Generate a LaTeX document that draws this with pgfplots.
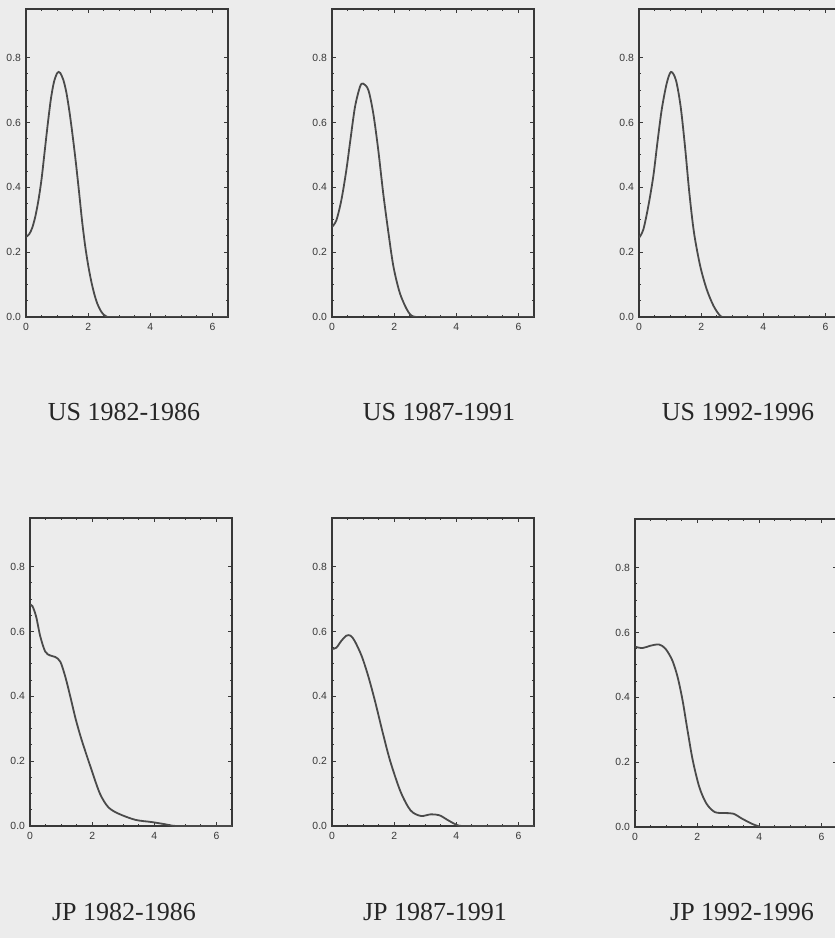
\documentclass[border=0pt]{standalone}
\usepackage{pgfplots}
\pgfplotsset{compat=1.18}
\usepackage{fontspec}
\setmainfont{Liberation Serif}
\newfontfamily\tickfont{Liberation Sans}
\definecolor{bg}{HTML}{ECECEC}
\definecolor{axc}{HTML}{383838}
\definecolor{crv}{HTML}{4A4A4A}
\pgfplotsset{
  panel/.style={
    scale only axis, width=101pt, height=154pt, anchor=south west,
    xmin=0, xmax=6.5, ymin=0, ymax=0.95,
    xtick={0,2,4,6}, ytick={0,0.2,0.4,0.6,0.8},
    minor x tick num=3, minor y tick num=3,
    tick pos=both, tick align=inside,
    major tick length=2.2pt, minor tick length=1.2pt,
    axis line style={axc, line width=0.75pt},
    every tick/.style={axc, line width=0.5pt},
    axis background/.style={fill=bg},
    yticklabel style={/pgf/number format/fixed, /pgf/number format/fixed zerofill, /pgf/number format/precision=1, xshift=1pt},
    /pgf/number format/assume math mode=true,
    tick label style={font=\tickfont\fontsize{5.2}{6}\selectfont, text=axc},
    xticklabel style={yshift=0.5pt},
    every axis plot post/.style={crv, line width=0.9pt, smooth, tension=0.5, mark=none},
  },
}
\begin{document}
\begin{tikzpicture}
\useasboundingbox (0,0) rectangle (417.5pt,469pt);
\fill[bg] (0,0) rectangle (417.5pt,469pt);

% US 1982-1986
\begin{axis}[panel, at={(13pt,310.5pt)}]
\addplot coordinates {(0,0.247) (0.1,0.255) (0.2,0.275) (0.3,0.31) (0.4,0.36) (0.5,0.425) (0.6,0.51) (0.7,0.595) (0.8,0.672) (0.9,0.725) (1.0,0.752) (1.05,0.756) (1.1,0.753) (1.2,0.732) (1.3,0.692) (1.4,0.632) (1.5,0.56) (1.6,0.48) (1.7,0.392) (1.8,0.30) (1.9,0.222) (2.0,0.16) (2.1,0.11) (2.2,0.07) (2.3,0.04) (2.4,0.02) (2.5,0.007) (2.6,0.001) (2.7,0) (3.5,0) (5,0) (6.5,0)};
\end{axis}

% US 1987-1991
\begin{axis}[panel, at={(166pt,310.5pt)}]
\addplot coordinates {(0,0.278) (0.14,0.298) (0.30,0.36) (0.46,0.452) (0.59,0.545) (0.74,0.648) (0.90,0.71) (1.0,0.72) (1.17,0.70) (1.33,0.627) (1.49,0.514) (1.65,0.38) (1.82,0.257) (1.98,0.154) (2.19,0.072) (2.46,0.015) (2.7,0) (3.5,0) (5,0) (6.5,0)};
\end{axis}

% US 1992-1996
\begin{axis}[panel, at={(319.5pt,310.5pt)}]
\addplot coordinates {(0,0.244) (0.14,0.27) (0.30,0.342) (0.46,0.434) (0.59,0.536) (0.73,0.639) (0.89,0.72) (1.03,0.756) (1.19,0.73) (1.34,0.649) (1.48,0.526) (1.62,0.383) (1.77,0.26) (1.97,0.157) (2.18,0.085) (2.40,0.034) (2.62,0.003) (2.8,0) (3.5,0) (5,0) (6.5,0)};
\end{axis}

% JP 1982-1986
\begin{axis}[panel, at={(15pt,56pt)}]
\addplot coordinates {(0,0.683) (0.08,0.678) (0.2,0.645) (0.33,0.585) (0.49,0.538) (0.65,0.526) (0.82,0.521) (0.98,0.506) (1.14,0.459) (1.30,0.398) (1.47,0.33) (1.66,0.266) (1.97,0.176) (2.25,0.10) (2.52,0.058) (2.85,0.038) (3.39,0.019) (3.93,0.012) (4.37,0.005) (4.7,0) (5.5,0) (6.5,0)};
\end{axis}

% JP 1987-1991
\begin{axis}[panel, at={(166pt,56pt)}]
\addplot coordinates {(0,0.546) (0.14,0.55) (0.30,0.571) (0.46,0.587) (0.60,0.587) (0.74,0.569) (0.96,0.523) (1.17,0.461) (1.39,0.383) (1.64,0.285) (1.88,0.198) (2.21,0.105) (2.53,0.048) (2.86,0.031) (3.18,0.036) (3.46,0.033) (3.73,0.018) (4.0,0.004) (4.2,0) (5,0) (6.5,0)};
\end{axis}

% JP 1992-1996
\begin{axis}[panel, at={(317.5pt,55.5pt)}]
\addplot coordinates {(0,0.556) (0.24,0.552) (0.49,0.559) (0.77,0.563) (0.98,0.55) (1.20,0.514) (1.37,0.463) (1.53,0.391) (1.69,0.298) (1.86,0.205) (2.07,0.123) (2.30,0.072) (2.57,0.046) (2.90,0.043) (3.17,0.041) (3.44,0.026) (3.76,0.01) (3.98,0.002) (4.1,0) (5,0) (6.5,0)};
\end{axis}

\begin{scope}[font=\fontsize{13}{15}\selectfont, text=black!85]
\node at (62pt,263pt) {US 1982-1986};
\node at (219.5pt,263pt) {US 1987-1991};
\node at (369pt,263pt) {US 1992-1996};
\node at (62pt,13pt) {JP 1982-1986};
\node at (217.5pt,13pt) {JP 1987-1991};
\node at (371pt,13pt) {JP 1992-1996};
\end{scope}
\end{tikzpicture}
\end{document}
